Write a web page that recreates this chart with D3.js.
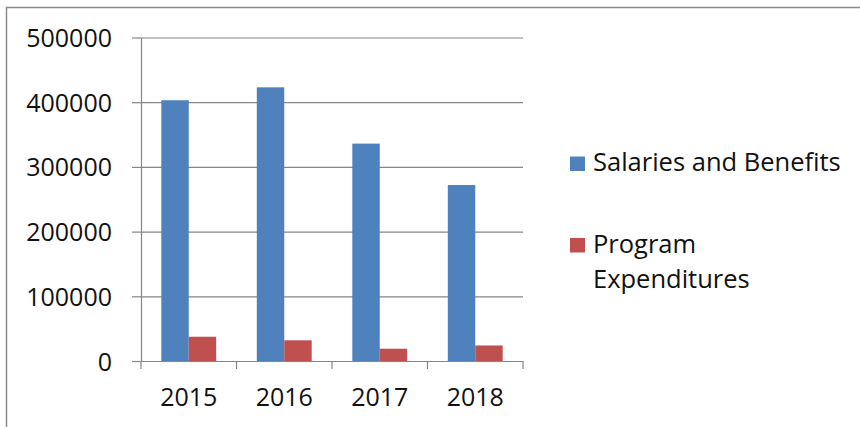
<!DOCTYPE html>
<html>
<head>
<meta charset="utf-8">
<script src="https://cdn.jsdelivr.net/npm/d3@7"></script>
<style>
  body { margin: 0; background: #fff; }
  svg text { font-family: 'Open Sans', sans-serif; fill: #111; }
</style>
</head>
<body>
<svg id="chart" width="860" height="427"></svg>
<script>
const years = ['2015', '2016', '2017', '2018'];
const seriesNames = ['Salaries and Benefits', 'Program Expenditures'];
const salaries = [403000, 423000, 336000, 272000];
const programs = [37500, 32000, 19000, 24000];
const yTicks = [0, 100000, 200000, 300000, 400000, 500000];
const colours = ['#4f81bd', '#c0504d'];

const width = 860,
  height = 427,
  margins = { top: 37.5, right: 337, bottom: 66, left: 141 };

const vis = d3.select('#chart');

// outer chart frame
vis
  .append('rect')
  .attr('x', 6.5)
  .attr('y', 7.5)
  .attr('width', width)
  .attr('height', height)
  .attr('fill', 'none')
  .attr('stroke', '#8c8c8c')
  .attr('stroke-width', 1.5);

const xScale = d3
    .scaleBand()
    .domain(years)
    .range([margins.left, width - margins.right])
    .padding(0),
  xInner = d3
    .scaleBand()
    .domain(seriesNames)
    .range([0, xScale.bandwidth()])
    .paddingInner(0)
    .paddingOuter(0.74),
  yScale = d3
    .scaleLinear()
    .domain([0, 500000])
    .range([height - margins.bottom, margins.top]);

// gridlines
vis
  .append('g')
  .attr('class', 'grid')
  .attr('transform', 'translate(' + margins.left + ',0)')
  .call(
    d3
      .axisLeft(yScale)
      .tickValues(yTicks)
      .tickSize(-(width - margins.left - margins.right))
      .tickFormat('')
      .tickSizeOuter(0)
  )
  .call(g => g.select('.domain').remove())
  .selectAll('line')
  .attr('stroke', '#868686')
  .attr('stroke-width', 1.2);

// y axis
const yAxisG = vis
  .append('g')
  .attr('transform', 'translate(' + margins.left + ',0)')
  .call(
    d3
      .axisLeft(yScale)
      .tickValues(yTicks)
      .tickFormat(d3.format('d'))
      .tickSize(9)
      .tickPadding(20)
      .tickSizeOuter(0)
  );
yAxisG.select('.domain').attr('stroke', '#868686').attr('stroke-width', 1.2);
yAxisG.selectAll('.tick line').attr('stroke', '#868686').attr('stroke-width', 1.2);
yAxisG
  .selectAll('.tick text')
  .style('font-size', '25px')
  .attr('dy', '0.36em');

// bars
const rows = years.map((yr, i) => ({
  year: yr,
  values: [
    { name: seriesNames[0], value: salaries[i] },
    { name: seriesNames[1], value: programs[i] }
  ]
}));

vis
  .append('g')
  .selectAll('g')
  .data(rows)
  .join('g')
  .attr('transform', d => 'translate(' + xScale(d.year) + ',0)')
  .selectAll('rect')
  .data(d => d.values)
  .join('rect')
  .attr('x', d => xInner(d.name))
  .attr('y', d => yScale(d.value))
  .attr('width', xInner.bandwidth())
  .attr('height', d => yScale(0) - yScale(d.value))
  .attr('fill', (d, i) => colours[i]);

// x axis
const xAxisG = vis
  .append('g')
  .attr('transform', 'translate(0,' + (height - margins.bottom) + ')')
  .call(d3.axisBottom(xScale).tickSize(0).tickPadding(27).tickSizeOuter(0));
xAxisG.select('.domain').attr('stroke', '#868686').attr('stroke-width', 1.2);
xAxisG.selectAll('.tick text').style('font-size', '25px');

// category separators on the x axis
const bounds = years.map(y => xScale(y)).concat([width - margins.right]);
xAxisG
  .selectAll('.sep')
  .data(bounds)
  .join('line')
  .attr('class', 'sep')
  .attr('x1', d => d)
  .attr('x2', d => d)
  .attr('y1', 0)
  .attr('y2', 8)
  .attr('stroke', '#868686')
  .attr('stroke-width', 1.2);

// legend
const legendItems = [
  { lines: ['Salaries and Benefits'], y: 171 },
  { lines: ['Program', 'Expenditures'], y: 252.5 }
];
const legend = vis.append('g').attr('transform', 'translate(570,0)');
legendItems.forEach((item, i) => {
  legend
    .append('rect')
    .attr('x', 0)
    .attr('y', item.y - 14.5)
    .attr('width', 15)
    .attr('height', 14.5)
    .attr('fill', colours[i]);
  const t = legend
    .append('text')
    .attr('x', 23)
    .attr('y', item.y)
    .style('font-size', '25.5px');
  item.lines.forEach((ln, j) => {
    t.append('tspan')
      .attr('x', 23)
      .attr('dy', j === 0 ? 0 : 35.5)
      .text(ln);
  });
});
</script>
</body>
</html>
